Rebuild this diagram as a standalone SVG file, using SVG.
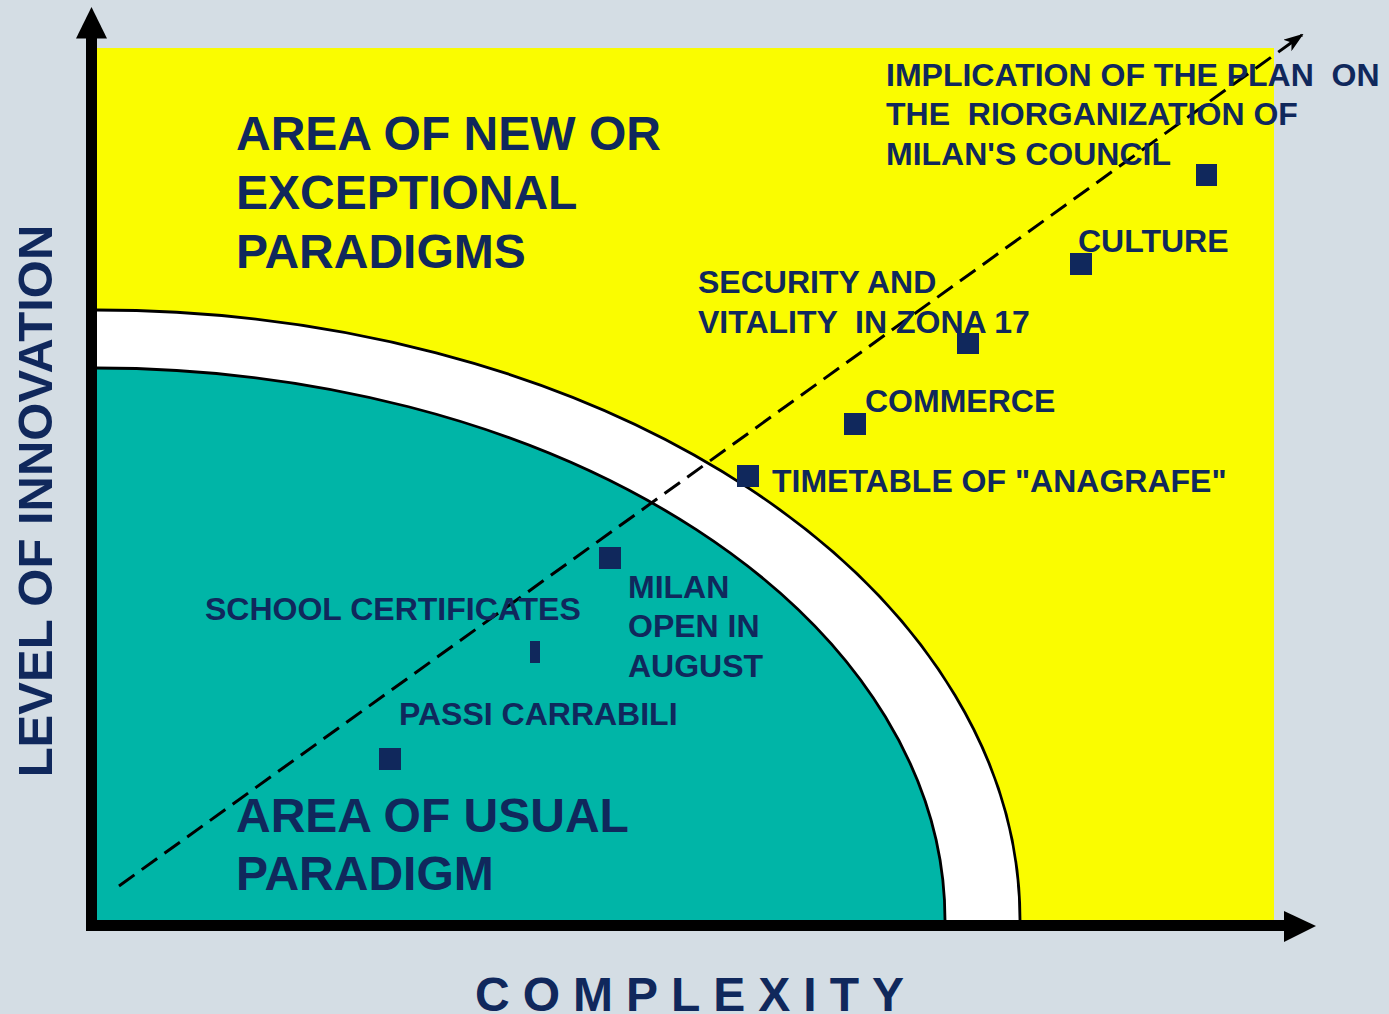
<svg xmlns="http://www.w3.org/2000/svg" width="1389" height="1014" viewBox="0 0 1389 1014">
<style>
  text { font-family: "Liberation Sans", Arial, sans-serif; font-weight: bold; fill: #10285c; white-space: pre; }
  .big { font-size: 48px; }
  .lab { font-size: 32px; }
  .pt { fill: #10285c; }
  .arc { stroke: #000; stroke-width: 2.8; }
</style>
<defs>
  <marker id="dashArrow" viewBox="0 0 20 14" refX="18" refY="7" markerWidth="20" markerHeight="14" markerUnits="userSpaceOnUse" orient="auto">
    <path d="M0,0 L20,7 L0,14 L5,7 Z" fill="#000"/>
  </marker>
</defs>
<rect x="0" y="0" width="1389" height="1014" fill="#d4dde4"/>

<g id="area-exceptional">
  <rect x="96" y="48" width="1178" height="872" fill="#fafc00"/>
  <text class="big" x="236" y="150">AREA OF NEW OR</text>
  <text class="big" x="236" y="209">EXCEPTIONAL</text>
  <text class="big" x="236" y="268">PARADIGMS</text>
</g>

<g id="transition-band">
  <path d="M96,310 A924,610 0 0 1 1020,920 L96,920 Z" fill="#ffffff"/>
  <path d="M96,310 A924,610 0 0 1 1020,920" fill="none" class="arc"/>
</g>

<g id="area-usual">
  <path d="M96,368 A849,552 0 0 1 945,920 L96,920 Z" fill="#00b5a7"/>
  <path d="M96,368 A849,552 0 0 1 945,920" fill="none" class="arc"/>
  <text class="big" x="236" y="832">AREA OF USUAL</text>
  <text class="big" x="236" y="890">PARADIGM</text>
</g>

<g id="connectors">
  <line x1="119" y1="886" x2="1302" y2="35" stroke="#000" stroke-width="3" stroke-dasharray="19 9" marker-end="url(#dashArrow)"/>
</g>

<g id="axes">
  <rect x="86" y="36" width="11" height="895" fill="#000"/>
  <polygon points="91.5,7 76,38.5 107,38.5" fill="#000"/>
  <rect x="86" y="920" width="1200" height="11" fill="#000"/>
  <polygon points="1284,911 1316,926 1284,942" fill="#000"/>
  <text class="big" style="font-size:49px" transform="translate(52,501) rotate(-90)" text-anchor="middle">LEVEL OF INNOVATION</text>
  <text class="big" x="475" y="1011" letter-spacing="13">COMPLEXITY</text>
</g>

<g id="node-implication">
  <rect class="pt" x="1196" y="164" width="21" height="22"/>
  <text class="lab" x="886" y="86">IMPLICATION OF THE PLAN  ON</text>
  <text class="lab" x="886" y="125">THE  RIORGANIZATION OF</text>
  <text class="lab" x="886" y="165">MILAN'S COUNCIL</text>
</g>

<g id="node-culture">
  <rect class="pt" x="1070" y="253" width="22" height="22"/>
  <text class="lab" x="1078" y="252">CULTURE</text>
</g>

<g id="node-security">
  <rect class="pt" x="957" y="333" width="22" height="21"/>
  <text class="lab" x="698" y="293">SECURITY AND</text>
  <text class="lab" x="698" y="333">VITALITY  IN ZONA 17</text>
</g>

<g id="node-commerce">
  <rect class="pt" x="844" y="413" width="22" height="22"/>
  <text class="lab" x="865" y="412">COMMERCE</text>
</g>

<g id="node-timetable">
  <rect class="pt" x="737" y="465" width="22" height="22"/>
  <text class="lab" x="772" y="492">TIMETABLE OF "ANAGRAFE"</text>
</g>

<g id="node-milan-open">
  <rect class="pt" x="599" y="547" width="22" height="22"/>
  <text class="lab" x="628" y="598">MILAN</text>
  <text class="lab" x="628" y="637">OPEN IN</text>
  <text class="lab" x="628" y="677">AUGUST</text>
</g>

<g id="node-school">
  <rect class="pt" x="530" y="641" width="10" height="22"/>
  <text class="lab" x="205" y="620">SCHOOL CERTIFICATES</text>
</g>

<g id="node-passi">
  <rect class="pt" x="379" y="748" width="22" height="22"/>
  <text class="lab" x="399" y="725">PASSI CARRABILI</text>
</g>
</svg>
